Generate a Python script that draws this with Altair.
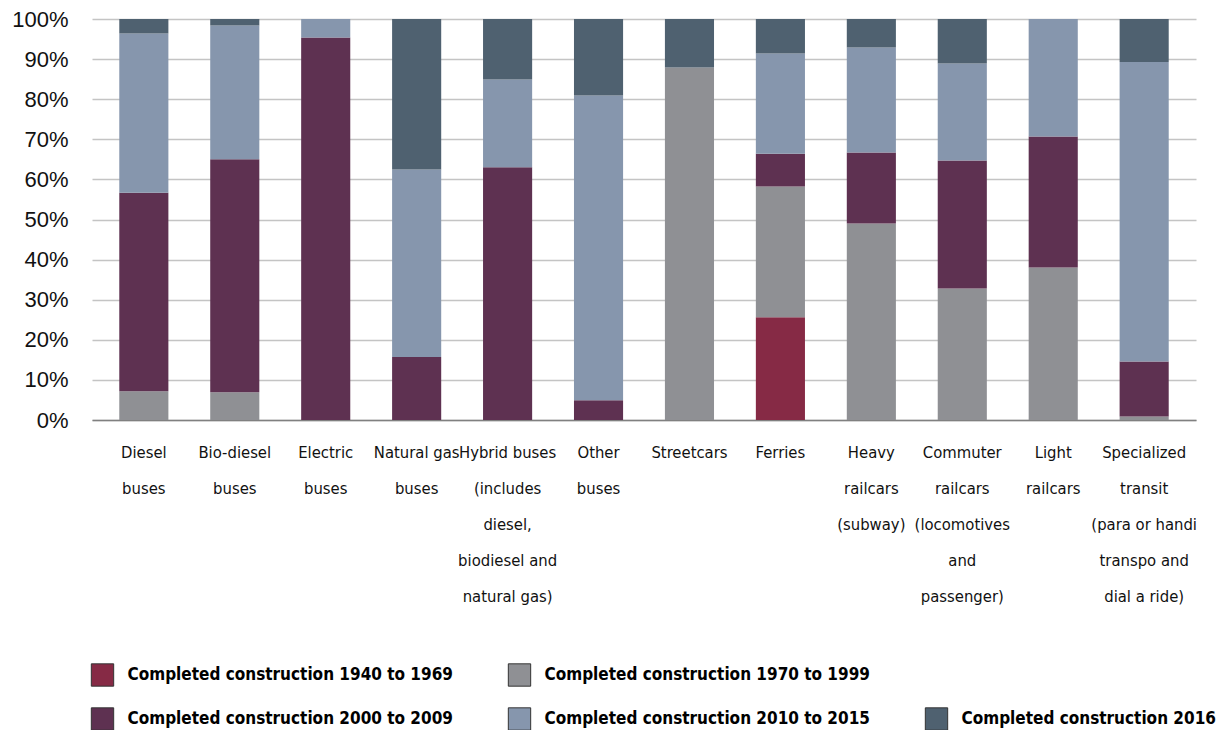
import altair as alt
import pandas as pd

categories = [
    "Diesel|buses",
    "Bio-diesel|buses",
    "Electric|buses",
    "Natural gas|buses",
    "Hybrid buses|(includes|diesel,|biodiesel and|natural gas)",
    "Other|buses",
    "Streetcars",
    "Ferries",
    "Heavy|railcars|(subway)",
    "Commuter|railcars|(locomotives|and|passenger)",
    "Light|railcars",
    "Specialized|transit|(para or handi|transpo and|dial a ride)",
]

series_names = [
    "Completed construction 1940 to 1969",
    "Completed construction 1970 to 1999",
    "Completed construction 2000 to 2009",
    "Completed construction 2010 to 2015",
    "Completed construction 2016",
]

s_1940_1969 = [0, 0, 0, 0, 0, 0, 0, 25.6, 0, 0, 0, 0]
s_1970_1999 = [7.2, 6.9, 0, 0, 0, 0, 87.9, 32.6, 49.0, 32.8, 38.0, 0.9]
s_2000_2009 = [49.5, 58.1, 95.4, 15.7, 63.0, 4.9, 0, 8.2, 17.7, 31.9, 32.7, 13.7]
s_2010_2015 = [39.7, 33.4, 4.6, 46.8, 21.9, 76.0, 0, 25.0, 26.2, 24.2, 29.3, 74.7]
s_2016 = [3.6, 1.6, 0, 37.5, 15.1, 19.1, 12.1, 8.6, 7.1, 11.1, 0, 10.7]

series_values = [s_1940_1969, s_1970_1999, s_2000_2009, s_2010_2015, s_2016]

colors = ["#862A45", "#8F9094", "#5E3151", "#8696AD", "#4F6170"]

# legend layout (Excel-style: 2 items on first row, 3 on second)
legend_rows = [0, 0, 1, 1, 1]
legend_cols = [0, 1, 0, 1, 2]

COND = "DejaVu Sans Condensed"

rows = []
for si, (name, vals) in enumerate(zip(series_names, series_values)):
    for cat, v in zip(categories, vals):
        rows.append({"category": cat, "series": name, "order": si, "value": v / 100.0})
df = pd.DataFrame(rows)

legend_df = pd.DataFrame({
    "series": series_names,
    "row": legend_rows,
    "col": legend_cols,
})

color_scale = alt.Scale(domain=series_names, range=colors)

bars = alt.Chart(df).mark_bar().encode(
    x=alt.X(
        "category:N",
        sort=categories,
        title=None,
        scale=alt.Scale(paddingInner=0.46, paddingOuter=0.3),
        axis=alt.Axis(
            labelExpr="split(datum.value, '|')",
            labelAngle=0,
            labelFont=COND,
            labelFontSize=16.5,
            labelColor="#111111",
            labelLineHeight=36,
            labelBaseline="top",
            labelPadding=24,
            labelLimit=0,
            ticks=False,
            domain=True,
            domainColor="#808080",
            domainWidth=1.5,
            grid=False,
        ),
    ),
    y=alt.Y(
        "value:Q",
        stack="zero",
        title=None,
        scale=alt.Scale(domain=[0, 1], nice=False),
        axis=alt.Axis(
            format=".0%",
            values=[i / 10 for i in range(11)],
            labelFont="Liberation Sans",
            labelFontSize=22,
            labelColor="#111111",
            labelPadding=24,
            ticks=False,
            domain=False,
            grid=True,
            gridColor="#C4C4C4",
            gridWidth=1.5,
        ),
    ),
    color=alt.Color("series:N", scale=color_scale, legend=None),
    order=alt.Order("order:Q", sort="ascending"),
).properties(width=1104, height=401)

leg_x = alt.X("col:Q", scale=alt.Scale(domain=[0, 2], range=[10.5, 844.5]), axis=None)
leg_y = alt.Y("row:Q", scale=alt.Scale(domain=[0, 1], range=[0, 44]), axis=None)

legend_squares = alt.Chart(legend_df).mark_square(
    size=500, opacity=1, stroke="#333333", strokeWidth=1
).encode(
    x=leg_x,
    y=leg_y,
    fill=alt.Fill("series:N", scale=color_scale, legend=None),
)

legend_text = alt.Chart(legend_df).mark_text(
    align="left",
    baseline="middle",
    dx=25,
    font=COND,
    fontSize=17,
    fontWeight="bold",
    color="#000000",
).encode(
    x=leg_x,
    y=leg_y,
    text="series:N",
)

legend_chart = alt.layer(legend_squares, legend_text).properties(width=900, height=44)

chart = alt.vconcat(bars, legend_chart, spacing=56).properties(
    padding={"left": 3, "top": 0, "right": 0, "bottom": 0},
    background="white",
).configure_view(stroke=None)

chart.save("out.html", embed_options={"renderer": "svg", "actions": False})
